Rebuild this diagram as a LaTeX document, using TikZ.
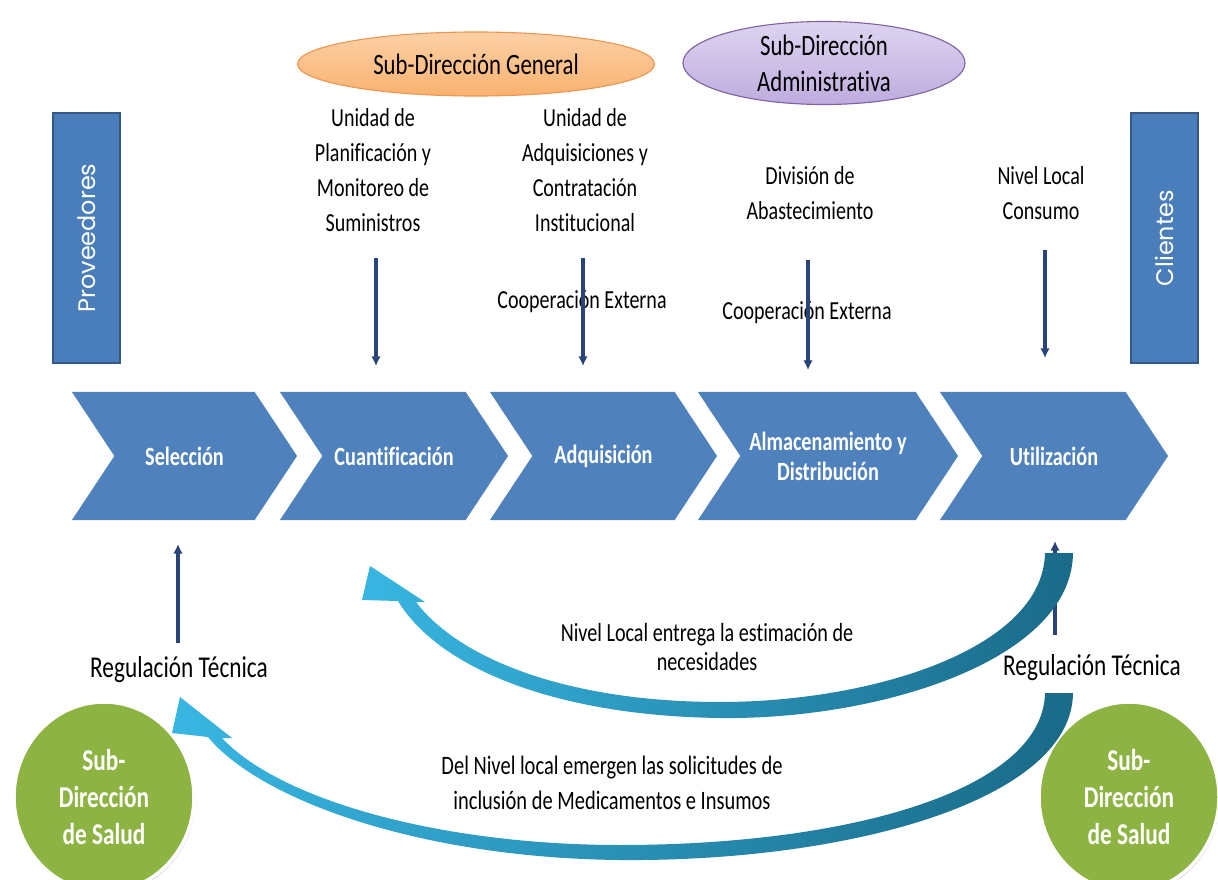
\documentclass[tikz,border=0pt]{standalone}
\usepackage{fontspec}
\setmainfont{Carlito}[FakeStretch=0.77, Ligatures={NoCommon}]
\newfontfamily\gothic{Poppins}
\usepackage{tikz}
\usetikzlibrary{shapes.geometric, shapes.symbols, positioning, shadows}
\usetikzlibrary{arrows.meta}
\tikzset{>={Latex[width=2.4mm,length=2.4mm]}}
\definecolor{chevblue}{RGB}{79,129,189}
\definecolor{boxblue}{RGB}{74,126,187}
\definecolor{boxedge}{RGB}{52,88,135}
\definecolor{navy}{RGB}{40,68,122}
\definecolor{saludgreen}{RGB}{141,180,66}
\definecolor{peachtop}{RGB}{252,208,166}
\definecolor{peachbot}{RGB}{249,178,112}
\definecolor{peachedge}{RGB}{236,150,80}
\definecolor{lilactop}{RGB}{221,212,240}
\definecolor{lilacbot}{RGB}{190,172,222}
\definecolor{lilacedge}{RGB}{128,100,162}
\definecolor{tealL}{RGB}{56,182,226}
\definecolor{tealR}{RGB}{26,106,136}

\begin{document}
\begin{tikzpicture}[x=0.025cm, y=-0.025cm, chevron/.style={signal, signal to=east, signal from=west, signal pointer angle=113, fill=chevblue, draw=none, text=white, inner sep=0pt, minimum height=3.2cm, align=center, font=\bfseries\fontsize{18.7}{21.3}\selectfont}, sidebox/.style={rectangle, fill=boxblue, draw=boxedge, thick, minimum width=1.675cm, minimum height=6.25cm, inner sep=0pt}, sidetext/.style={rotate=90, text=white, font=\gothic\fontsize{17}{20}\selectfont}, unit/.style={align=center, inner sep=0pt, font=\fontsize{18.5}{25}\selectfont}, coop/.style={inner sep=0pt, font=\fontsize{18.5}{21}\selectfont}, note/.style={align=center, inner sep=0pt, font=\fontsize{18.6}{21.3}\selectfont}, reg/.style={inner sep=0pt, font=\fontsize{21.5}{25}\selectfont}, head/.style={ellipse, align=center, inner sep=0pt, thick, font=\fontsize{21}{25.5}\selectfont}, salud/.style={ellipse, fill=saludgreen, draw=white, line width=2.5pt, minimum width=4.5cm, minimum height=4.75cm, inner sep=0pt, align=center, text=white, drop shadow={shadow xshift=1pt, shadow yshift=-1.5pt, opacity=0.3}, font=\bfseries\fontsize{21.5}{26.5}\selectfont}, link/.style={->, draw=navy, line width=2.5pt}]

    \useasboundingbox (0,0) rectangle (1218,880);

    %Nodes
    \node[head, top color=peachtop, bottom color=peachbot, draw=peachedge, minimum width=8.925cm, minimum height=1.6cm](general) at (476,64){Sub-Dirección General};
    \node[head, top color=lilactop, bottom color=lilacbot, draw=lilacedge, minimum width=7.05cm, minimum height=2.075cm](admin) at (824,63){Sub-Dirección\\Administrativa};

    \node[sidebox](prov) at (86.5,238){};
    \node[sidetext] at (prov.center){Proveedores};
    \node[sidebox](clientes) at (1164.5,238){};
    \node[sidetext] at (clientes.center){Clientes};

    \node[unit](planif) at (373,170){Unidad de\\Planificación y\\Monitoreo de\\Suministros};
    \node[unit](contrat) at (585,170){Unidad de\\Adquisiciones y\\Contratación\\Institucional};
    \node[unit](abast) at (810,193){División de\\Abastecimiento};
    \node[unit](consumo) at (1041,193){Nivel Local\\Consumo};
    \node[coop](coop1) at (582,302){Cooperación Externa};
    \node[coop](coop2) at (807,313){Cooperación Externa};

    \node[chevron, minimum width=5.625cm](sel) at (184.5,456){Selección};
    \node[chevron, minimum width=5.7cm](cuant) at (394,456){Cuantificación};
    \node[chevron, minimum width=5.675cm](adq) at (603.5,456){Adquisición};
    \node[chevron, minimum width=6.5cm](alm) at (828,456){Almacenamiento y\\Distribución};
    \node[chevron, minimum width=5.7cm](util) at (1054,456){Utilización};

    \node[salud](saludL) at (104,797){Sub-\\Dirección\\de Salud};
    \node[salud](saludR) at (1129,797){Sub-\\Dirección\\de Salud};

    %Free ends
    \coordinate (p1) at (376,258); \coordinate (q1) at (376,366);
    \coordinate (p2) at (583,258); \coordinate (q2) at (583,366);
    \coordinate (p3) at (808,260); \coordinate (q3) at (808,370);
    \coordinate (p4) at (1045,250); \coordinate (q4) at (1045,358);
    \coordinate (r1) at (178,643); \coordinate (s1) at (178,544);
    \coordinate (r2) at (1055,635); \coordinate (s2) at (1055,541);

    %Lines
    \draw[link] (p1) -- (q1);
    \draw[link] (p2) -- (q2);
    \draw[link] (p3) -- (q3);
    \draw[link] (p4) -- (q4);
    \draw[link] (r1) -- (s1);
    \draw[link] (r2) -- (s2);

    %Feedback arrows
    \shade[left color=tealL, right color=tealR] (1045,553) -- (1073,553) .. controls (1072,660) and (880,720) .. (720,718) .. controls (560,716) and (440,670) .. (398,601) -- (362,600) -- (370,566) -- (425,602) -- (416,602) .. controls (460,660) and (570,702) .. (720,702) .. controls (870,702) and (1043,650) .. (1045,553) -- cycle;
    \shade[left color=tealL, right color=tealR] (1045,693) -- (1073,693) .. controls (1072,800) and (850,862) .. (620,860) .. controls (420,858) and (260,800) .. (208,737) -- (172,733) -- (180,697) -- (232,738) -- (222,738) .. controls (280,800) and (440,845) .. (620,845) .. controls (850,845) and (1043,790) .. (1045,693) -- cycle;

    \node[note](entrega) at (707,647){Nivel Local entrega la estimación de\\necesidades};
    \node[note, font=\fontsize{18.9}{24.5}\selectfont](emergen) at (612,783){Del Nivel local emergen las solicitudes de\\inclusión de Medicamentos e Insumos};
    \node[reg](regL) at (179,670){Regulación Técnica};
    \node[reg](regR) at (1092,668){Regulación Técnica};

\end{tikzpicture}
\end{document}
